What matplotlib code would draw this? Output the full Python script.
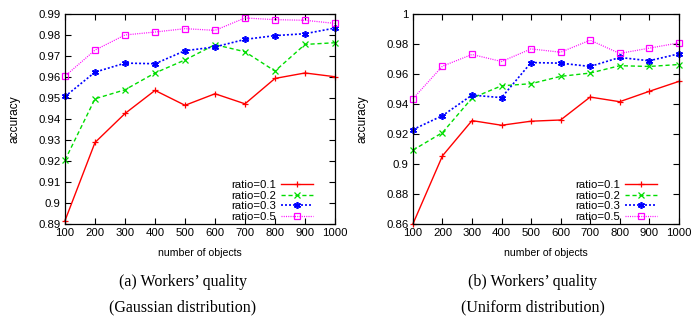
import numpy as np
import matplotlib
matplotlib.use("Agg")
import matplotlib.pyplot as plt

plt.rcParams['font.family'] = ['Liberation Sans', 'DejaVu Sans']

objects = [100, 200, 300, 400, 500, 600, 700, 800, 900, 1000]
labels = ["ratio=0.1", "ratio=0.2", "ratio=0.3", "ratio=0.5"]

# (a) Gaussian
gauss_01 = [0.8916, 0.9288, 0.9426, 0.9536, 0.9465, 0.9520, 0.9472, 0.9593, 0.9619, 0.9601]
gauss_02 = [0.9204, 0.9496, 0.9539, 0.9619, 0.9681, 0.9754, 0.9720, 0.9628, 0.9755, 0.9763]
gauss_03 = [0.9507, 0.9623, 0.9666, 0.9663, 0.9725, 0.9743, 0.9779, 0.9797, 0.9806, 0.9833]
gauss_05 = [0.9604, 0.9728, 0.9800, 0.9814, 0.9830, 0.9822, 0.9881, 0.9873, 0.9870, 0.9855]

# (b) Uniform
unif_01 = [0.8600, 0.9054, 0.9289, 0.9258, 0.9285, 0.9293, 0.9446, 0.9415, 0.9484, 0.9550]
unif_02 = [0.9092, 0.9209, 0.9439, 0.9521, 0.9535, 0.9584, 0.9606, 0.9655, 0.9650, 0.9663]
unif_03 = [0.9229, 0.9322, 0.9459, 0.9442, 0.9676, 0.9672, 0.9650, 0.9710, 0.9688, 0.9734]
unif_05 = [0.9435, 0.9652, 0.9730, 0.9683, 0.9767, 0.9745, 0.9825, 0.9737, 0.9772, 0.9807]

styles = [
    dict(color="#ff0000", ls="-", marker="+", ms=5, mew=0.9, lw=1.0),
    dict(color="#00dd00", ls=(0, (3, 2)), marker="x", ms=4, mew=0.9, lw=1.0),
    dict(color="#0000ff", ls=(0, (1.2, 1.2)), marker=(6, 2, 0), ms=5, mew=1.2, lw=1.2),
    dict(color="#ff00ff", ls=(0, (0.8, 1.0)), marker="s", ms=4.5, mew=0.9, lw=0.9,
         mfc="none"),
]

fig = plt.figure(figsize=(6.94, 3.25), dpi=100)
ax1 = fig.add_axes([0.0937, 0.311, 0.389, 0.646])
ax2 = fig.add_axes([0.595, 0.311, 0.383, 0.646])


def draw(ax, series, ylim, yticks, ylabels):
    for s, lab, st in zip(series, labels, styles):
        ax.plot(objects, s, label=lab, clip_on=False, **st)
    ax.set_xlim(100, 1000)
    ax.set_ylim(*ylim)
    ax.set_xticks(objects)
    ax.set_yticks(yticks)
    ax.set_yticklabels(ylabels)
    ax.tick_params(direction="in", length=4, width=0.8, top=True, right=True,
                   labelsize=8.2, pad=3)
    for sp in ax.spines.values():
        sp.set_linewidth(0.9)
    ax.set_xlabel("number of objects", fontsize=7.6, labelpad=7)
    ax.set_ylabel("accuracy", fontsize=8.6, labelpad=13)
    ax.legend(loc="lower right", bbox_to_anchor=(0.945, -0.025), frameon=False,
              markerfirst=False, fontsize=8.2, handlelength=2.8,
              labelspacing=0.08, borderaxespad=0.2, handletextpad=0.5)


draw(ax1, [gauss_01, gauss_02, gauss_03, gauss_05], (0.89, 0.99),
     np.arange(0.89, 0.9901, 0.01),
     ["0.89", "0.9", "0.91", "0.92", "0.93", "0.94", "0.95", "0.96", "0.97",
      "0.98", "0.99"])
draw(ax2, [unif_01, unif_02, unif_03, unif_05], (0.86, 1.0),
     np.arange(0.86, 1.001, 0.02),
     ["0.86", "0.88", "0.9", "0.92", "0.94", "0.96", "0.98", "1"])

cap = dict(ha="center", va="center", fontsize=11.5, family=["Liberation Serif", "DejaVu Serif"])
fig.text(183 / 694, 1 - 282 / 325, "(a) Workers\u2019 quality", **cap)
fig.text(183 / 694, 1 - 307 / 325, "(Gaussian distribution)", **cap)
fig.text(533 / 694, 1 - 282 / 325, "(b) Workers\u2019 quality", **cap)
fig.text(533 / 694, 1 - 307 / 325, "(Uniform distribution)", **cap)

fig.savefig("out.png", dpi=100)
